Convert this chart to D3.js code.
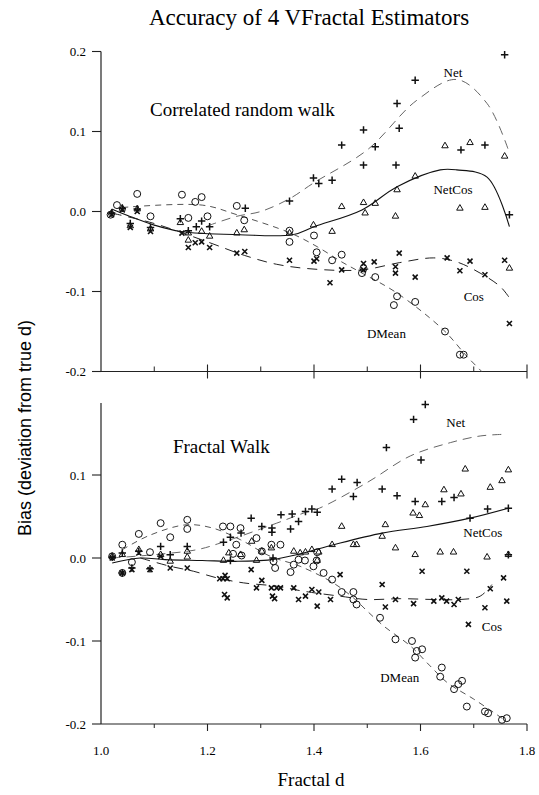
<!DOCTYPE html>
<html><head><meta charset="utf-8">
<script src="https://cdn.jsdelivr.net/npm/d3@7"></script>
<style>
html,body{margin:0;padding:0;background:#fff;}
svg{display:block;}
</style></head>
<body>
<svg id="chart" width="539" height="795"></svg>
<script>
// ---------- DATA ----------
const title = "Accuracy of 4 VFractal Estimators";
const xLabel = "Fractal d";
const yLabel = "Bias (deviation from true d)";
const xTickMajor = [1.0, 1.2, 1.4, 1.6, 1.8];
const xTickMinor = [1.1, 1.3, 1.5, 1.7];
const yTicksTop = [0.2, 0.1, 0.0, -0.1, -0.2];
const yTicksBottom = [0.1, 0.0, -0.1, -0.2];
const panelTitles = ["Correlated random walk", "Fractal Walk"];

// Top panel: Correlated random walk
const topNet = [[1.02,-0.002],[1.04,0.004],[1.068,0.003],[1.055,-0.015],[1.093,-0.02],[1.149,-0.009],[1.164,-0.024],[1.179,-0.019],[1.189,-0.012],[1.204,-0.019],[1.271,0.004],[1.354,0.013],[1.399,0.042],[1.409,0.035],[1.434,0.039],[1.452,0.083],[1.493,0.102],[1.515,0.081],[1.493,0.058],[1.556,0.135],[1.56,0.104],[1.554,0.058],[1.59,0.164],[1.676,0.077],[1.721,0.083],[1.758,0.196],[1.767,-0.004]];
const topNetCos = [[1.02,-0.002],[1.04,0.004],[1.068,0.003],[1.055,-0.018],[1.093,-0.022],[1.149,-0.014],[1.164,-0.027],[1.164,-0.036],[1.189,-0.025],[1.204,-0.031],[1.255,-0.027],[1.269,-0.023],[1.354,-0.027],[1.399,-0.017],[1.434,-0.025],[1.452,0.006],[1.493,0.011],[1.515,0.01],[1.496,-0.002],[1.553,-0.006],[1.556,0.027],[1.59,0.044],[1.646,0.082],[1.693,0.086],[1.674,0.004],[1.721,0.005],[1.758,0.069],[1.767,-0.071]];
const topCos = [[1.02,-0.004],[1.04,0.002],[1.068,0.0],[1.055,-0.02],[1.093,-0.025],[1.152,-0.027],[1.164,-0.045],[1.177,-0.039],[1.189,-0.038],[1.204,-0.045],[1.255,-0.052],[1.27,-0.05],[1.354,-0.061],[1.40,-0.062],[1.405,-0.059],[1.43,-0.089],[1.452,-0.073],[1.493,-0.065],[1.493,-0.073],[1.513,-0.063],[1.553,-0.069],[1.553,-0.077],[1.56,-0.052],[1.59,-0.082],[1.65,-0.058],[1.693,-0.062],[1.674,-0.074],[1.721,-0.079],[1.758,-0.061],[1.767,-0.14]];
const topDMean = [[1.018,-0.004],[1.03,0.008],[1.068,0.022],[1.093,-0.006],[1.152,0.021],[1.164,-0.008],[1.177,0.012],[1.189,0.018],[1.20,-0.006],[1.255,0.007],[1.269,-0.011],[1.354,-0.024],[1.354,-0.038],[1.40,-0.03],[1.405,-0.051],[1.434,-0.061],[1.452,-0.054],[1.493,-0.071],[1.49,-0.077],[1.515,-0.082],[1.556,-0.106],[1.55,-0.117],[1.59,-0.113],[1.646,-0.15],[1.674,-0.179],[1.681,-0.179]];
const topNetFit = [[1.2,-0.018],[1.255,-0.006],[1.3,0.0],[1.354,0.016],[1.4,0.036],[1.5,0.077],[1.593,0.139],[1.668,0.165],[1.725,0.135],[1.765,0.077]];
const topNetCosFit = [[1.02,0.003],[1.05,-0.005],[1.1,-0.017],[1.15,-0.025],[1.26,-0.029],[1.36,-0.029],[1.4,-0.019],[1.49,0.002],[1.556,0.031],[1.637,0.052],[1.668,0.052],[1.725,0.043],[1.767,-0.019]];
const topCosFit = [[1.02,-0.002],[1.1,-0.015],[1.2,-0.038],[1.27,-0.055],[1.33,-0.066],[1.4,-0.072],[1.49,-0.073],[1.56,-0.064],[1.625,-0.058],[1.668,-0.063],[1.712,-0.077],[1.75,-0.094],[1.766,-0.107]];
const topDMeanFit = [[1.04,0.005],[1.19,0.008],[1.255,-0.004],[1.356,-0.027],[1.406,-0.044],[1.452,-0.063],[1.493,-0.078],[1.556,-0.102],[1.643,-0.148],[1.687,-0.181],[1.715,-0.2]];

// Bottom panel: Fractal Walk
const botNet = [[1.021,0.001],[1.04,0.006],[1.04,-0.018],[1.058,-0.012],[1.071,0.008],[1.092,-0.013],[1.112,0.014],[1.13,0.004],[1.162,0.014],[1.23,0.019],[1.243,0.025],[1.263,0.03],[1.243,-0.003],[1.282,0.048],[1.302,0.038],[1.321,0.031],[1.321,0.036],[1.323,0.0],[1.338,0.052],[1.359,0.053],[1.371,0.044],[1.356,0.035],[1.384,0.056],[1.396,0.059],[1.406,0.055],[1.434,0.083],[1.452,0.095],[1.481,0.091],[1.474,0.074],[1.528,0.083],[1.536,0.133],[1.556,0.075],[1.587,0.167],[1.609,0.185],[1.601,0.118],[1.59,0.068],[1.64,0.068],[1.663,0.073],[1.693,0.048],[1.726,0.059],[1.765,0.06],[1.765,0.004]];
const botNetCos = [[1.021,0.002],[1.04,0.004],[1.071,0.01],[1.112,0.004],[1.13,-0.004],[1.162,0.001],[1.162,0.008],[1.23,-0.003],[1.24,0.006],[1.262,0.004],[1.283,0.02],[1.292,-0.003],[1.302,0.008],[1.32,0.012],[1.362,0.008],[1.384,0.007],[1.396,0.01],[1.374,0.006],[1.409,0.007],[1.406,-0.003],[1.434,0.016],[1.452,0.038],[1.474,0.016],[1.48,0.016],[1.528,0.026],[1.534,0.04],[1.553,0.012],[1.586,0.054],[1.598,0.051],[1.59,0.004],[1.609,0.064],[1.637,0.007],[1.662,0.007],[1.644,0.082],[1.676,0.077],[1.684,0.107],[1.725,0.001],[1.731,0.085],[1.753,0.093],[1.765,0.106],[1.765,0.004]];
const botCos = [[1.021,0.0],[1.04,-0.018],[1.058,-0.014],[1.071,0.006],[1.092,-0.014],[1.112,0.002],[1.13,-0.012],[1.162,-0.012],[1.223,-0.025],[1.229,-0.025],[1.237,-0.025],[1.233,-0.021],[1.232,-0.044],[1.237,-0.048],[1.282,-0.014],[1.302,-0.027],[1.292,-0.036],[1.32,-0.036],[1.33,-0.036],[1.337,-0.036],[1.322,-0.046],[1.326,-0.049],[1.362,-0.036],[1.371,-0.05],[1.384,-0.046],[1.396,-0.038],[1.409,-0.041],[1.406,-0.058],[1.431,-0.05],[1.449,-0.02],[1.528,-0.032],[1.534,-0.059],[1.553,-0.05],[1.587,-0.055],[1.603,-0.016],[1.625,-0.052],[1.64,-0.048],[1.649,-0.052],[1.663,-0.056],[1.671,-0.05],[1.687,-0.016],[1.69,-0.08],[1.721,-0.06],[1.731,-0.037],[1.756,-0.024],[1.762,-0.052]];
const botDMean = [[1.021,0.002],[1.04,-0.018],[1.04,0.016],[1.058,-0.005],[1.071,0.029],[1.092,0.007],[1.112,0.042],[1.13,0.025],[1.162,0.046],[1.162,0.035],[1.229,0.038],[1.243,0.038],[1.262,0.036],[1.254,0.016],[1.248,0.005],[1.264,0.003],[1.292,0.024],[1.302,0.008],[1.32,0.016],[1.337,0.016],[1.327,-0.012],[1.324,-0.004],[1.362,-0.008],[1.371,-0.002],[1.383,-0.003],[1.356,-0.017],[1.406,0.007],[1.405,-0.003],[1.399,-0.01],[1.418,-0.018],[1.434,-0.026],[1.452,-0.041],[1.474,-0.041],[1.474,-0.05],[1.48,-0.056],[1.524,-0.072],[1.553,-0.098],[1.584,-0.1],[1.593,-0.112],[1.603,-0.11],[1.59,-0.12],[1.64,-0.132],[1.637,-0.143],[1.678,-0.148],[1.671,-0.152],[1.663,-0.158],[1.687,-0.179],[1.721,-0.185],[1.727,-0.187],[1.753,-0.195],[1.762,-0.193]];
const botNetFit = [[1.02,0.0],[1.1,0.004],[1.18,0.01],[1.224,0.018],[1.33,0.042],[1.38,0.054],[1.41,0.06],[1.5,0.091],[1.581,0.123],[1.656,0.139],[1.712,0.147],[1.756,0.149]];
const botNetCosFit = [[1.021,-0.006],[1.074,0.0],[1.12,-0.002],[1.19,-0.003],[1.257,-0.004],[1.32,-0.002],[1.374,0.005],[1.437,0.016],[1.528,0.03],[1.612,0.038],[1.693,0.048],[1.765,0.06]];
const botCosFit = [[1.074,0.0],[1.13,-0.01],[1.174,-0.016],[1.218,-0.024],[1.268,-0.03],[1.33,-0.034],[1.38,-0.04],[1.449,-0.046],[1.5,-0.05],[1.562,-0.049],[1.625,-0.05],[1.674,-0.05],[1.712,-0.046],[1.734,-0.032]];
const botDMeanFit = [[1.04,0.01],[1.09,0.027],[1.16,0.04],[1.21,0.036],[1.262,0.022],[1.318,0.002],[1.374,-0.01],[1.436,-0.03],[1.474,-0.048],[1.5,-0.064],[1.531,-0.082],[1.581,-0.106],[1.618,-0.13],[1.65,-0.15],[1.7,-0.17],[1.744,-0.189],[1.762,-0.197]];

// series labels [text, d, value]
const topLabels = [["Net",1.661,0.174],["NetCos",1.661,0.027],["Cos",1.70,-0.106],["DMean",1.536,-0.152]];
const botLabels = [["Net",1.666,0.163],["NetCos",1.717,0.031],["Cos",1.734,-0.083],["DMean",1.561,-0.144]];

// ---------- DRAW ----------
const svg = d3.select("#chart");
const serif = "'Liberation Serif','Times New Roman',serif";
const sans = "'Liberation Sans',Arial,sans-serif";

const x = d3.scaleLinear().domain([1.0, 1.8]).range([101, 527]);
const yTop = d3.scaleLinear().domain([-0.2, 0.2]).range([371.5, 51.5]);
const yBot = d3.scaleLinear().domain([-0.2, 0.2]).range([724, 392]);

const styles = {
  Net:    {sym: d3.symbolPlus,      size: 20, sw: 1.5, line: "#666", dash: "9,6", lw: 1},
  NetCos: {sym: d3.symbolTriangle2, size: 30, sw: 1.0, line: "#111", dash: null,  lw: 1.1},
  Cos:    {sym: d3.symbolTimes,     size: 18, sw: 1.6, line: "#222", dash: "10,7", lw: 1},
  DMean:  {sym: d3.symbolCircle,    size: 38, sw: 1.0, line: "#555", dash: "6,5", lw: 1}
};

function panel(y, ticks, axisTop, xTicksInside, series, fits, labels, ptitle, ptPos) {
  const g = svg.append("g");
  g.append("line").attr("x1", x(1.0)).attr("x2", x(1.0))
    .attr("y1", axisTop).attr("y2", y(-0.2)).attr("stroke", "#222").attr("stroke-width", 1.2);
  g.append("line").attr("x1", x(1.0)).attr("x2", x(1.8))
    .attr("y1", y(-0.2)).attr("y2", y(-0.2)).attr("stroke", "#222").attr("stroke-width", 1.2);
  g.selectAll(".yt").data(ticks).join("line")
    .attr("x1", x(1.0) - 9).attr("x2", x(1.0))
    .attr("y1", d => y(d)).attr("y2", d => y(d)).attr("stroke", "#222").attr("stroke-width", 1.1);
  g.selectAll(".yl").data(ticks).join("text")
    .attr("x", x(1.0) - 15).attr("y", d => y(d)).attr("dy", "0.35em")
    .attr("text-anchor", "end").attr("font-family", serif).attr("font-size", 13)
    .text(d => d.toFixed(1));
  const ya = y(-0.2);
  g.selectAll(".xM").data(xTickMajor.filter(d => d > 1.0)).join("line")
    .attr("x1", d => x(d)).attr("x2", d => x(d))
    .attr("y1", xTicksInside ? ya - 7 : ya).attr("y2", ya + 7)
    .attr("stroke", "#222").attr("stroke-width", 1.1);
  g.selectAll(".xm").data(xTickMinor).join("line")
    .attr("x1", d => x(d)).attr("x2", d => x(d))
    .attr("y1", xTicksInside ? ya - 5 : ya).attr("y2", xTicksInside ? ya : ya + 4)
    .attr("stroke", "#222").attr("stroke-width", 1);
  g.append("text").attr("x", x(ptPos[0])).attr("y", y(ptPos[1]))
    .attr("font-family", serif).attr("font-size", 19).text(ptitle);
  const line = d3.line().x(d => x(d[0])).y(d => y(d[1])).curve(d3.curveCatmullRom.alpha(0.5));
  Object.entries(fits).forEach(([k, pts]) => {
    const s = styles[k];
    g.append("path").attr("d", line(pts)).attr("fill", "none")
      .attr("stroke", s.line).attr("stroke-width", s.lw)
      .attr("stroke-dasharray", s.dash);
  });
  Object.entries(series).forEach(([k, pts]) => {
    const s = styles[k];
    const sym = d3.symbol().type(s.sym).size(s.size);
    g.selectAll(".p" + k).data(pts).join("path")
      .attr("transform", d => `translate(${x(d[0])},${y(d[1])})`)
      .attr("d", sym).attr("fill", "none").attr("stroke", "#111").attr("stroke-width", s.sw);
  });
  g.selectAll(".lab").data(labels).join("text")
    .attr("x", d => x(d[1])).attr("y", d => y(d[2])).attr("dy", "0.35em")
    .attr("text-anchor", "middle").attr("font-family", serif).attr("font-size", 13)
    .text(d => d[0]);
  return g;
}

panel(yTop, yTicksTop, yTop(0.2), true,
  {NetCos: topNetCos, DMean: topDMean, Cos: topCos, Net: topNet},
  {Net: topNetFit, NetCos: topNetCosFit, Cos: topCosFit, DMean: topDMeanFit},
  topLabels, panelTitles[0], [1.092, 0.12]);

panel(yBot, yTicksBottom, 403, false,
  {NetCos: botNetCos, DMean: botDMean, Cos: botCos, Net: botNet},
  {Net: botNetFit, NetCos: botNetCosFit, Cos: botCosFit, DMean: botDMeanFit},
  botLabels, panelTitles[1], [1.135, 0.127]);

svg.selectAll(".xl").data(xTickMajor).join("text")
  .attr("x", d => x(d)).attr("y", 755)
  .attr("text-anchor", "middle").attr("font-family", serif).attr("font-size", 13)
  .text(d => d.toFixed(1));

svg.append("text").attr("x", 309).attr("y", 25).attr("text-anchor", "middle")
  .attr("font-family", serif).attr("font-size", 23).text(title);
svg.append("text").attr("x", 311).attr("y", 786).attr("text-anchor", "middle")
  .attr("font-family", serif).attr("font-size", 19).text(xLabel);
svg.append("text").attr("transform", "translate(31,428) rotate(-90)")
  .attr("text-anchor", "middle").attr("font-family", sans).attr("font-size", 18)
  .text(yLabel);
</script>
</body></html>
